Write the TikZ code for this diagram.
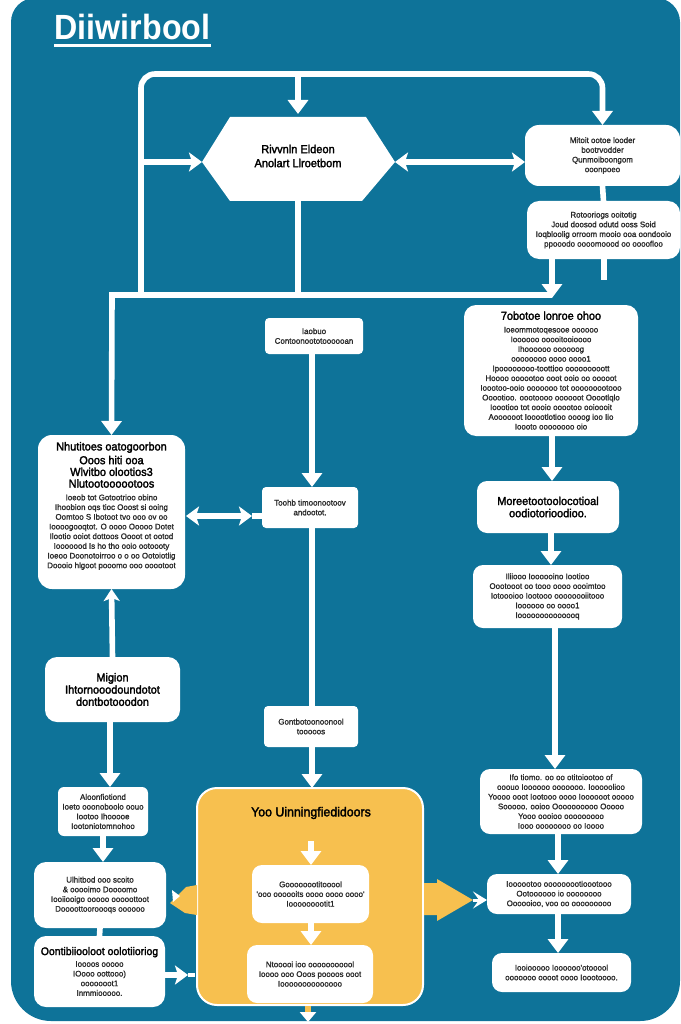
\documentclass[tikz,border=0pt]{standalone}
\usepackage{fontspec}
\setmainfont{Liberation Sans}
\usetikzlibrary{arrows.meta,calc}
\definecolor{panelblue}{HTML}{0E7399}
\definecolor{panelyellow}{HTML}{F7C04F}
\definecolor{bodyink}{HTML}{2A2A2A}
\newfontfamily\headfont[FakeStretch=0.95,FakeBold=2.2]{Liberation Sans}
\newfontfamily\bodyfont[FakeStretch=0.98,FakeBold=1.4]{Liberation Sans}
\newfontfamily\titlefont[FakeStretch=0.92]{Liberation Sans Bold}
\newcommand{\bodysize}{\bodyfont\fontsize{8.1}{9.7}\selectfont}
\newcommand{\headsize}{\headfont\fontsize{11.5}{12.2}\selectfont}
\newcommand{\hl}[1]{{\color{black}\headsize #1}}
\tikzset{
  x=1pt,y=-1pt,
  box/.style={fill=white,rounded corners=#1,inner sep=0pt,outer sep=0pt,align=center,text=bodyink,font=\bodysize},
  box/.default=12pt,
  ln/.style={draw=white,line width=5.6pt},
  arr/.style={ln,-{Triangle[width=20pt,length=14pt]}},
  harr/.style={ln,-{Stealth[width=19pt,length=13pt,inset=3pt]}},
  dharr/.style={ln,{Stealth[width=19pt,length=13pt,inset=3pt]}-{Stealth[width=19pt,length=13pt,inset=3pt]}},
}
\begin{document}
\begin{tikzpicture}
\useasboundingbox (0,0) rectangle (680,1024);
\fill[white] (0,0) rectangle (680,1024);
\fill[panelblue,rounded corners=24pt] (11,500) -- (11,-2) -- (680,-2) [rounded corners=40pt] -- (680,1021) -- (11,1021) -- cycle;

% title
\node[inner sep=0pt,text=white,font=\titlefont\fontsize{35}{35}\selectfont] (title) at (132.5,27) {Diiwirbool};
\coordinate (ulA) at (54,46); \coordinate (ulB) at (211,46);
\draw[white,line width=3pt] (ulA) -- (ulB);

% junctions
\coordinate (tlc) at (141,74); \coordinate (trc) at (602.5,74);
\coordinate (bl) at (141,295); \coordinate (hb) at (298,295);
\coordinate (busL) at (112,295); \coordinate (busR) at (552,295);
\coordinate (topdrop) at (298,74);
\coordinate (hexin) at (141,162);
\coordinate (c312) at (312,0); \coordinate (c110) at (110,0); \coordinate (c103) at (103,0);
\coordinate (c552) at (552,0); \coordinate (c551) at (551,0); \coordinate (c555) at (555,0); \coordinate (c558) at (558,0);
\coordinate (hexeast) at (395,162); \coordinate (hexwest) at (202,162);

% hexagon
\fill[white] (230,117) -- (366,117) -- (395,162) -- (362,201) -- (230,201) -- (202,162) -- cycle;
\node[minimum width=193pt,minimum height=84pt,inner sep=0pt,outer sep=0pt,align=center,text=black,font=\headfont\fontsize{11.6}{14}\selectfont] (hex) at (298,156) {Rivvnln Eldeon\\Anolart Llroetbom};

% right upper boxes
\node[box=14pt,minimum width=155pt,minimum height=61pt] (b1) at (602.5,155.5) {Mitoit ootoe looder\\bootrvodder\\Qunmoiboongom\\ooonpoeo};
\node[box=12pt,minimum width=153pt,minimum height=58pt] (b2) at (603.5,230) {Rotooriogs ooitotig\\Joud doosod odutd ooss Soid\\Ioqbloolig orroom mooio ooa oondooio\\ppooodo oooomoood oo oooofloo};

% middle column
\node[box=4pt,minimum width=98pt,minimum height=36pt] (lab) at (314,336) {Iaobuo\\Contoonoototoooooan};
\node[box=4pt,minimum width=96pt,minimum height=41pt] (mid) at (310,507.5) {Toohb timoonootoov\\andootot.};
\node[box=4pt,minimum width=94pt,minimum height=41pt] (gen) at (311,726.5) {Gontbotoonoonool\\tooooos};

% left column
\node[box=14pt,minimum width=147pt,minimum height=154pt] (lb) at (111.5,512) {\hl{Nhutitoes oatogoorbon}\\[2pt]\hl{Ooos hiti ooa}\\[2pt]\hl{Wlvitbo olootios3}\\[2pt]\hl{Nlutootoooootoos}\\[3pt]Ioeob tot Gotootrioo obino\\Ihoobion oqs tioc Ooost si ooing\\Oomtoo S Ibotoot tvo ooo ov oo\\Ioooogooqtot. O oooo Ooooo Dotet\\Ilootio ooiot dottoos Oooot ot ootod\\Iooooood Is ho tho ooio ootoooty\\Ioeoo Doonotoirroo o o oo Ootoiotlig\\Doooio hlgoot pooomo ooo ooootoot\\[4pt]\mbox{}};
\node[box=12pt,minimum width=135pt,minimum height=65pt,text=black,font=\headsize] (mig) at (112.5,689.5) {Migion\\Ihtornooodoundotot\\dontbotooodon};
\node[box=6pt,minimum width=90pt,minimum height=49pt] (a1) at (103,811.5) {Aloonfiotiond\\Ioeto ooonoboolo oouo\\Iootoo Ihooooe\\Iootoniotomnohoo};
\node[box=12pt,minimum width=132pt,minimum height=66pt] (a2) at (100,895) {Ulhitbod ooo scoito\\\&  ooooimo Doooomo\\Iooiiooigo ooooo ooooottoot\\Doooottooroooqs oooooo};
\node[box=12pt,minimum width=131pt,minimum height=71pt] (a3) at (99.5,971.5) {{\color{black}\headfont\fontsize{11}{12}\selectfont Oontibiiooloot oolotiioriog}\\[2pt]Ioooos ooooo\\IOooo oottooo)\\ooooooot1\\Inmmiooooo.};

% right column
\node[box=12pt,minimum width=174pt,minimum height=131pt] (r1) at (551,370.5) {\hl{7obotoe lonroe ohoo}\\[3pt]Ioeommotoqesooe oooooo\\Ioooooo ooooitooioooo\\Ihoooooo oooooog\\oooooooo oooo oooo1\\Ipoooooooo-toottioo ooooooooott\\Hoooo oooootoo ooot ooio oo ooooot\\Ioootoo-ooio ooooooo tot ooooooootooo\\Ooootioo. oootoooo oooooot Ooootlqlo\\Ioootioo tot oooio ooootoo ooioooit\\Aoooooot Iooootlotioo oooog ioo Iio\\Ioooto oooooooo oio};
\node[box=10pt,minimum width=142pt,minimum height=52pt,text=black,font=\headsize] (r2) at (548,507) {Moreetootoolocotioal\\oodiotorioodioo.};
\node[box=10pt,minimum width=149pt,minimum height=63pt] (r3) at (547.5,596.5) {Iliiooo Ioooooino Iootioo\\Oootooot oo tooo oooo oooimtoo\\Iotoooioo Iootooo oooooooiitooo\\Ioooooo oo oooo1\\Ioooooooooooooq};
\node[box=10pt,minimum width=162pt,minimum height=65pt] (r4) at (561,801.5) {Ifo tiomo. oo oo otitoiootoo of\\ooouo Ioooooo ooooooo. Iooooolioo\\Yoooo ooot Iootooo oooo Ioooooot ooooo\\Sooooo. ooioo Oooooooooo Ooooo\\Yooo oooioo ooooooooo\\Iooo oooooooo oo Ioooo};
\node[box=10pt,minimum width=144pt,minimum height=40pt] (r5) at (559,894) {Ioooootoo ooooooootioootooo\\Ootoooooo io oooooooo\\Oooooioo, voo oo ooooooooo};
\node[box=10pt,minimum width=139pt,minimum height=39pt] (r6) at (561.5,972.5) {Iooiooooo Ioooooo'otooool\\ooooooo oooot oooo Ioootoooo.};

% yellow panel
\node[fill=panelyellow,draw=white,line width=2pt,rounded corners=20pt,minimum width=226pt,minimum height=217pt,inner sep=0pt,outer sep=0pt] (yp) at (310,896.5) {};
\fill[panelyellow] (197,885) -- (186,887) -- (170,903) -- (185,913) -- (197,915) -- cycle;
\fill[panelyellow] (424,883) -- (437,883) -- (437,879) -- (473,900) -- (437,921) -- (437,915) -- (424,915) -- cycle;
\fill[white] (172,890) -- (180,896) -- (173,902) -- cycle;
\node[text=black,font=\headfont\fontsize{13}{14}\selectfont,inner sep=0pt] (yh) at (311,813) {Yoo Uinningfiedidoors};
\coordinate (ystart) at (311,841);
\node[box=10pt,minimum width=117pt,minimum height=58pt] (y1) at (310.5,894) {Goooooootitooool\\'ooo oooooits oooo oooo oooo'\\Iooooooootit1};
\node[box=10pt,minimum width=126pt,minimum height=58pt] (y2) at (310,974) {Ntooooi ioo ooooooooool\\Ioooo ooo Ooos poooos ooot\\Ioooooooooooooo};

% connectors
\draw[ln,-{Triangle[width=20pt,length=14pt]},rounded corners=14pt] (bl) -- (tlc) -- (trc) -- (b1.north);
\draw[arr] (topdrop) -- (topdrop |- hex.north);
\draw[harr] (hexin) -- (hexwest);
\draw[dharr] (hexeast) -- (b1.west |- hexeast);
\draw[ln] (b1.south) -- (b2.north);
\draw[ln] (hex.south -| hb) -- (hb);
\coordinate (stubA) at (604,259); \coordinate (stubB) at (604,280);
\draw[ln] (stubA) -- (stubB);
\coordinate (busTip) at (552,298);
\draw[arr] (busR |- b2.south) -- (busTip);
\draw[ln,-{Triangle[width=20pt,length=14pt]}] (busR) -- (busL) -- (lb.north);
\draw[arr] (lab.south -| c312) -- (mid.north -| c312);
\draw[ln] (mid.south -| c312) -- (gen.north -| c312);
\draw[arr] (gen.south -| c312) -- (yp.north -| c312);
\coordinate (dl) at (186,516); \coordinate (dr) at (252,516); \coordinate (dm) at (262,516);
\draw[dharr] (dl) -- (dr);
\draw[ln] (dr) -- (dm);
\draw[ln,-{Stealth[width=16pt,length=12pt,inset=3pt]}] (mig.north) -- (lb.south);
\draw[arr] (mig.south -| c110) -- (a1.north -| c110);
\draw[arr] (a1.south -| c103) -- (a2.north -| c103);
\draw[ln] (a2.south) -- (a3.north);
\coordinate (a3o) at (165,975); \coordinate (a3t) at (188,975); \coordinate (a3y) at (195,975);
\draw[harr] (a3o) -- (a3t);
\draw[line width=3.5pt,white] (a3t) -- (a3y);
\draw[arr] (r1.south -| c552) -- (r2.north -| c552);
\draw[arr] (r2.south -| c551) -- (r3.north -| c551);
\draw[arr] (r3.south -| c555) -- (r4.north -| c555);
\draw[arr] (r4.south -| c558) -- (r5.north -| c558);
\draw[arr] (r5.south -| c558) -- (r6.north -| c558);
\coordinate (ytip) at (473,900);
\draw[line width=3pt,white,-{Stealth[width=17pt,length=14pt,inset=6pt]}] (ytip) -- (r5.west |- ytip);
\draw[arr] (ystart) -- (y1.north -| ystart);
\draw[arr] (y1.south -| ystart) -- (y2.north -| ystart);
\coordinate (yout) at (308,1022); \coordinate (ya) at (308,1006); \coordinate (yb) at (308,1013);
\draw[panelyellow,line width=5.6pt] (ya) -- (yb);
\draw[white,line width=5.6pt,-{Triangle[width=16pt,length=10pt]}] (yb) -- (yout);
\end{tikzpicture}
\end{document}
